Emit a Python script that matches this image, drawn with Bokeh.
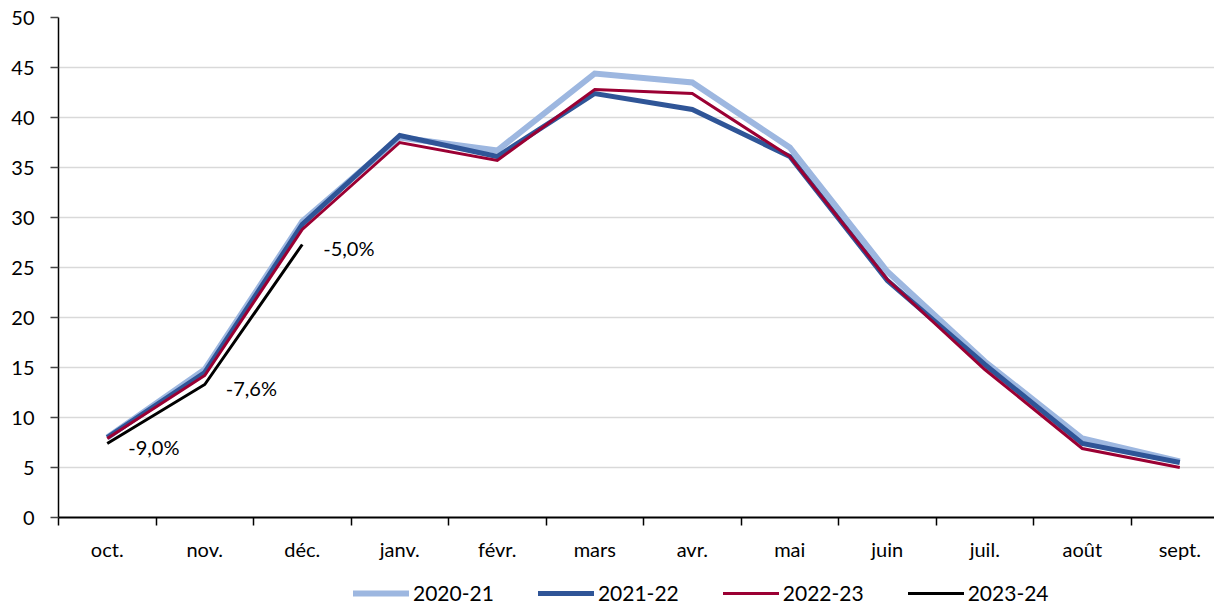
from bokeh.plotting import figure
from bokeh.layouts import column
from bokeh.models import (Range1d, FixedTicker, Legend, LegendItem, ColumnDataSource)
from bokeh.core.properties import value
from bokeh.embed import file_html
from bokeh.resources import INLINE

months = ["oct.", "nov.", "déc.", "janv.", "févr.", "mars", "avr.", "mai", "juin", "juil.", "août", "sept."]
s2020_21 = [8.0, 14.8, 29.6, 38.0, 36.7, 44.4, 43.5, 37.0, 24.6, 15.6, 7.9, 5.6]
s2021_22 = [8.0, 14.5, 29.3, 38.2, 36.1, 42.4, 40.8, 36.1, 23.7, 15.3, 7.4, 5.5]
s2022_23 = [7.9, 14.2, 28.8, 37.5, 35.7, 42.8, 42.4, 36.1, 23.8, 14.8, 6.9, 5.0]
s2023_24 = [7.4, 13.3, 27.3]
labels_2023_24 = ["-9,0%", "-7,6%", "-5,0%"]
series_names = ["2020-21", "2021-22", "2022-23", "2023-24"]
y_ticks = [0, 5, 10, 15, 20, 25, 30, 35, 40, 45, 50]

FONT = "Lato"

colors = ["#9DB7E0", "#2F5597", "#9B0033", "black"]
widths = [6, 5, 3, 3]

xs = [i + 0.5 for i in range(len(months))]

p = figure(width=1214, height=565, output_backend="svg", toolbar_location=None,
           x_range=Range1d(0, 11.856), y_range=Range1d(0, 50),
           min_border_left=58, min_border_right=0, min_border_top=17, min_border_bottom=48)
p.outline_line_color = None

# axes
p.xaxis.ticker = FixedTicker(ticks=xs, minor_ticks=list(range(0, 13)))
p.xaxis.major_label_overrides = {x: m for x, m in zip(xs, months)}
p.xaxis.major_tick_out = 0
p.xaxis.major_tick_in = 0
p.xaxis.minor_tick_out = 8
p.xaxis.minor_tick_in = 0
p.xaxis.minor_tick_line_color = "black"
p.xaxis.minor_tick_line_width = 1.5
p.xaxis.axis_line_color = "black"
p.xaxis.axis_line_width = 2
p.xaxis.major_label_text_font = FONT
p.xaxis.major_label_text_font_size = "20px"
p.xaxis.major_label_text_color = "black"
p.xaxis.major_label_standoff = 11

p.yaxis.ticker = FixedTicker(ticks=y_ticks)
p.yaxis.major_tick_out = 8
p.yaxis.major_tick_in = 0
p.yaxis.minor_tick_out = 0
p.yaxis.minor_tick_in = 0
p.yaxis.major_tick_line_color = "#444444"
p.yaxis.major_tick_line_width = 1.5
p.yaxis.axis_line_color = "black"
p.yaxis.axis_line_width = 1.5
p.yaxis.major_label_text_font = FONT
p.yaxis.major_label_text_font_size = "20px"
p.yaxis.major_label_text_color = "black"
p.yaxis.major_label_standoff = 16

p.xgrid.grid_line_color = None
p.ygrid.ticker = FixedTicker(ticks=y_ticks[1:])
p.ygrid.grid_line_color = "#D9D9D9"
p.ygrid.grid_line_width = 1.5

all_series = [s2020_21, s2021_22, s2022_23, s2023_24]
for s, c, w in zip(all_series, colors, widths):
    p.line(xs[:len(s)], s, line_color=c, line_width=w, line_join="miter")

src = ColumnDataSource(dict(x=xs[:len(s2023_24)], y=s2023_24, t=labels_2023_24))
p.text(x="x", y="y", text="t", source=src, x_offset=21, y_offset=3,
       text_font=value(FONT), text_font_size="20px", text_color="black",
       text_align="left", text_baseline="middle")

# legend strip (its frame is aligned with the main frame by the column layout)
lg = figure(width=1214, height=40, output_backend="svg", toolbar_location=None,
            x_range=Range1d(0, 1), y_range=Range1d(0, 1),
            x_axis_type=None, y_axis_type=None,
            min_border_left=0, min_border_right=0, min_border_top=0, min_border_bottom=0)
lg.outline_line_color = None
lg.xgrid.visible = False
lg.ygrid.visible = False
nan = float("nan")
lrs = [lg.line([nan], [nan], line_color=c, line_width=w, line_cap="round") for c, w in zip(colors, widths)]
legend = Legend(items=[LegendItem(label=n, renderers=[r]) for n, r in zip(series_names, lrs)],
                orientation="horizontal", location=(295, 0),
                glyph_width=56, glyph_height=20, label_standoff=4, spacing=44,
                padding=0, margin=0, border_line_color=None, background_fill_alpha=0,
                label_text_font=FONT, label_text_font_size="21px",
                label_text_color="black", label_height=20)
lg.add_layout(legend, "center")

layout = column(p, lg, spacing=0)
open("out.html", "w").write(file_html(layout, INLINE))
